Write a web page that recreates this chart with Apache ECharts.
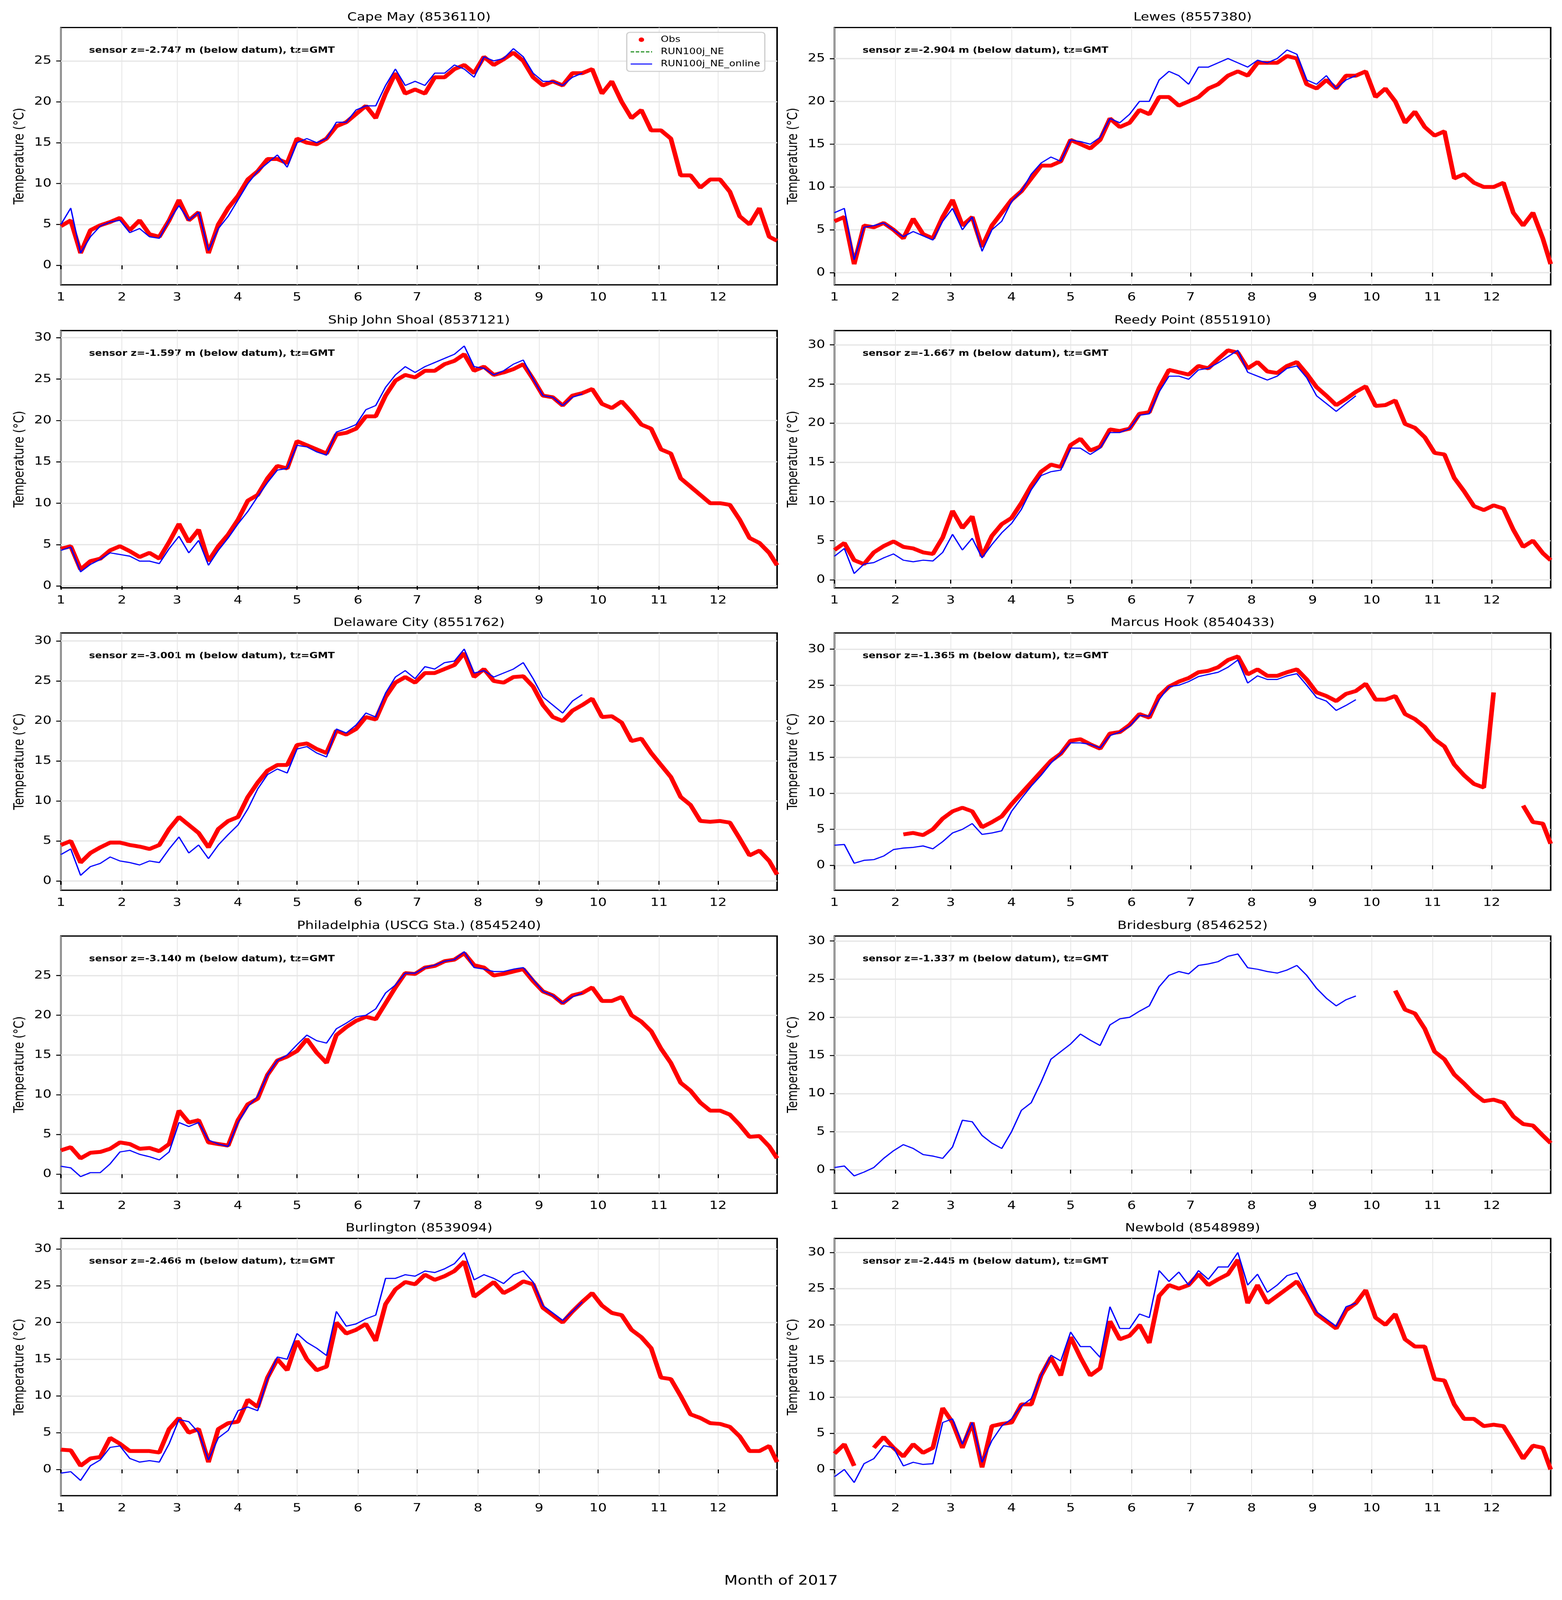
<!DOCTYPE html>
<html><head><meta charset="utf-8">
<script src="https://cdn.jsdelivr.net/npm/echarts@6/dist/echarts.min.js"></script>
<style>html,body{margin:0;padding:0;background:#fff;overflow:hidden}#c{width:4000px;height:5000px;transform-origin:0 0}</style>
</head><body><div id="c"></div>
<script>
// ---- data (day of year 2017, 0 = Jan 1) ----
const days = [0,5,10,15,20,25,30,35,40,45,50,55,60,65,70,75,80,85,90,95,100,105,110,115,120,125,130,135,140,145,150,155,160,165,170,175,180,185,190,195,200,205,210,215,220,225,230,235,240,245,250,255,260,265,270,275,280,285,290,295,300,305,310,315,320,325,330,335,340,345,350,355,360,364];
const monthStarts = [0,31,59,90,120,151,181,212,243,273,304,334];
const monthLabels = ['1','2','3','4','5','6','7','8','9','10','11','12'];
const stationNames = ['Cape May (8536110)','Lewes (8557380)','Ship John Shoal (8537121)','Reedy Point (8551910)','Delaware City (8551762)','Marcus Hook (8540433)','Philadelphia (USCG Sta.) (8545240)','Bridesburg (8546252)','Burlington (8539094)','Newbold (8548989)'];
const sensorDepths = ['-2.747','-2.904','-1.597','-1.667','-3.001','-1.365','-3.140','-1.337','-2.466','-2.445'];
const yTicks25 = [0,5,10,15,20,25];
const yTicks30 = [0,5,10,15,20,25,30];

const capeMayObs = [4.8,5.5,1.5,4.3,4.9,5.3,5.8,4.3,5.5,3.8, 3.5,5.5,8.0,5.5,6.5,1.5,5.0,7.0,8.5,10.5, 11.5,13.0,13.0,12.5,15.5,15.0,14.8,15.5,17.0,17.5, 18.5,19.5,18.0,21.0,23.5,21.0,21.5,21.0,23.0,23.0, 24.0,24.5,23.5,25.5,24.5,25.2,26.0,25.0,23.0,22.0, 22.5,22.0,23.5,23.5,24.0,21.0,22.5,20.0,18.0,19.0, 16.5,16.5,15.5,11.0,11.0,9.5,10.5,10.5,9.0,6.0, 5.0,7.0,3.5,3.0];
const capeMayModel = [5.0,7.0,1.5,3.5,4.8,5.3,5.5,4.0,4.5,3.5, 3.3,5.5,7.3,5.5,6.5,1.8,4.5,6.0,8.0,10.0, 11.5,12.5,13.5,12.0,15.0,15.5,15.0,15.5,17.5,17.5, 19.0,19.5,19.5,22.0,24.0,22.0,22.5,22.0,23.5,23.5, 24.5,24.0,23.0,25.5,25.0,25.3,26.5,25.5,23.5,22.5, 22.5,22.0,23.0,23.5];

const lewesObs = [6.0,6.5,1.0,5.5,5.3,5.8,5.0,4.0,6.3,4.5, 4.0,6.5,8.5,5.5,6.5,3.0,5.5,7.0,8.5,9.5, 11.0,12.5,12.5,13.0,15.5,15.0,14.5,15.5,18.0,17.0, 17.5,19.0,18.5,20.5,20.5,19.5,20.0,20.5,21.5,22.0, 23.0,23.5,23.0,24.5,24.5,24.5,25.3,25.0,22.0,21.5, 22.5,21.5,23.0,23.0,23.5,20.5,21.5,20.0,17.5,18.8, 17.0,16.0,16.5,11.0,11.5,10.5,10.0,10.0,10.5,7.0, 5.5,7.0,4.0,1.0];
const lewesModel = [7.0,7.5,1.5,5.3,5.5,5.8,5.0,4.2,4.8,4.3, 3.8,6.0,7.5,5.0,6.5,2.5,5.0,6.0,8.3,9.5, 11.5,12.8,13.5,13.0,15.5,15.3,15.0,15.8,18.0,17.5, 18.5,20.0,20.0,22.5,23.5,23.0,22.0,24.0,24.0,24.5, 25.0,24.5,24.0,24.8,24.5,25.0,26.0,25.5,22.5,22.0, 23.0,21.5,22.5,23.0];

const shipJohnObs = [4.5,4.8,2.0,3.0,3.3,4.3,4.8,4.2,3.5,4.0, 3.3,5.3,7.5,5.3,6.8,3.0,4.8,6.2,8.0,10.3, 11.0,13.0,14.5,14.2,17.5,17.0,16.5,16.0,18.3,18.5, 19.0,20.5,20.5,23.0,24.8,25.5,25.2,26.0,26.0,26.8, 27.2,28.0,26.0,26.5,25.5,25.8,26.2,26.8,25.0,23.0, 22.8,21.8,23.0,23.3,23.8,22.0,21.5,22.3,21.0,19.5, 19.0,16.5,16.0,13.0,12.0,11.0,10.0,10.0,9.8,8.0, 5.8,5.2,4.0,2.5];
const shipJohnModel = [4.3,4.7,1.7,2.6,3.2,4.0,3.8,3.6,3.0,3.0, 2.7,4.5,6.0,4.0,5.5,2.5,4.3,5.8,7.5,9.0, 10.8,12.5,14.0,14.2,17.0,16.8,16.2,15.8,18.6,19.0, 19.5,21.3,21.8,24.0,25.5,26.5,25.8,26.5,27.0,27.5, 28.0,29.0,26.5,26.3,25.5,26.0,26.8,27.3,25.0,23.0, 22.8,21.8,22.8,23.2];

const reedyObs = [3.8,4.7,2.5,2.0,3.5,4.3,4.9,4.2,4.0,3.5, 3.3,5.4,8.8,6.6,8.1,3.0,5.6,7.1,7.9,9.8, 12.0,13.8,14.7,14.4,17.2,18.0,16.5,17.0,19.2,19.0, 19.3,21.2,21.4,24.5,26.8,26.5,26.2,27.3,27.0,28.2, 29.3,29.0,27.0,27.8,26.6,26.4,27.3,27.8,26.3,24.6, 23.5,22.3,23.1,24.0,24.7,22.2,22.3,22.9,19.9,19.4, 18.2,16.2,16.0,13.0,11.3,9.4,8.9,9.5,9.1,6.4, 4.2,5.0,3.4,2.5];
const reedyModel = [3.0,4.0,0.8,2.0,2.2,2.8,3.3,2.5,2.3,2.5, 2.4,3.5,5.8,3.8,5.3,2.8,4.5,6.0,7.2,9.0, 11.5,13.3,13.8,14.0,16.8,16.8,16.0,16.8,18.8,18.8, 19.3,21.0,21.2,24.0,26.0,26.0,25.6,26.8,27.0,27.7, 28.5,29.3,26.5,26.0,25.5,26.0,27.0,27.3,25.8,23.5, 22.5,21.5,22.5,23.5];

const delCityObs = [4.5,5.0,2.3,3.5,4.2,4.8,4.8,4.5,4.3,4.0, 4.5,6.5,8.0,7.0,6.0,4.2,6.5,7.5,8.0,10.5, 12.3,13.8,14.5,14.5,17.0,17.2,16.5,16.0,18.8,18.3, 19.0,20.5,20.2,23.0,24.8,25.5,24.8,26.0,26.0,26.5, 27.0,28.5,25.5,26.5,25.0,24.8,25.5,25.6,24.3,22.0, 20.5,20.0,21.3,22.0,22.8,20.5,20.6,19.8,17.5,17.8, 16.0,14.5,13.0,10.5,9.5,7.5,7.4,7.5,7.3,5.3, 3.2,3.8,2.5,0.8];
const delCityModel = [3.3,4.0,0.7,1.8,2.2,3.0,2.5,2.3,2.0,2.5, 2.3,4.0,5.5,3.5,4.5,2.8,4.5,5.8,7.0,9.0, 11.5,13.3,14.0,13.5,16.5,16.8,16.0,15.5,19.0,18.5, 19.5,21.0,20.5,23.5,25.5,26.3,25.3,26.8,26.5,27.3, 27.5,29.0,26.0,26.3,25.5,26.0,26.5,27.3,25.3,23.0, 22.0,21.0,22.5,23.3];

const marcusObs = [null,null,null,null,null,null,null,4.3,4.5,4.2, 5.0,6.5,7.5,8.0,7.5,5.3,6.0,6.8,8.5,10.0, 11.5,13.0,14.5,15.5,17.3,17.5,16.8,16.2,18.3,18.5, 19.5,21.0,20.5,23.5,24.8,25.5,26.0,26.8,27.0,27.5, 28.5,29.0,26.5,27.2,26.3,26.3,26.8,27.2,25.8,24.0, 23.5,22.8,23.8,24.2,25.2,23.0,23.0,23.5,21.0,20.3, 19.2,17.5,16.5,14.0,12.5,11.3,10.8,24.0,null,null, 8.3,6.0,5.8,3.0];
const marcusModel = [2.8,2.9,0.3,0.7,0.8,1.3,2.2,2.4,2.5,2.7, 2.3,3.3,4.5,5.0,5.8,4.3,4.5,4.8,7.5,9.3, 11.0,12.5,14.2,15.5,17.0,17.0,16.8,16.3,18.0,18.5, 19.3,20.8,20.7,23.0,24.8,25.0,25.5,26.2,26.5,26.8, 27.5,28.5,25.3,26.3,25.8,25.8,26.3,26.6,25.0,23.3, 22.8,21.5,22.2,23.0];

const phillyObs = [3.0,3.4,2.0,2.7,2.8,3.2,4.0,3.8,3.2,3.3, 2.9,3.8,8.0,6.5,6.8,4.0,3.8,3.6,6.8,8.8, 9.5,12.5,14.3,14.8,15.5,17.0,15.3,14.0,17.5,18.5, 19.3,19.8,19.5,21.5,23.5,25.3,25.2,26.0,26.2,26.8, 27.0,27.8,26.3,26.0,25.0,25.2,25.5,25.8,24.3,23.0, 22.5,21.5,22.5,22.8,23.5,21.8,21.8,22.3,20.0,19.2, 18.0,15.8,14.0,11.5,10.5,9.0,8.0,8.0,7.5,6.2, 4.7,4.8,3.5,2.0];
const phillyModel = [1.0,0.8,-0.3,0.2,0.2,1.3,2.8,3.0,2.5,2.2, 1.8,2.8,6.5,6.0,6.5,4.3,3.8,3.5,6.5,8.5, 9.8,12.5,14.3,15.0,16.3,17.5,16.8,16.5,18.3,19.0, 19.8,20.0,20.8,22.8,23.8,25.3,25.3,26.0,26.3,26.8, 27.0,28.0,26.0,25.8,25.5,25.5,25.8,26.0,24.5,23.0, 22.5,21.5,22.3,22.8];

// Bridesburg observations begin at day 285 (index 57)
const bridesObsStart = 57;
const bridesObs = [23.5,21.0,20.5,18.5,15.5,14.5,12.5,11.3,10.0,9.0,9.2,8.8,7.0,6.0,5.8,4.5,3.5];
const bridesModel = [0.3,0.5,-0.8,-0.3,0.3,1.5,2.5,3.3,2.8,2.0, 1.8,1.5,3.0,6.5,6.3,4.5,3.5,2.8,5.0,7.8, 8.8,11.5,14.5,15.5,16.5,17.8,17.0,16.3,19.0,19.8, 20.0,20.8,21.5,24.0,25.5,26.0,25.7,26.8,27.0,27.3, 28.0,28.3,26.5,26.3,26.0,25.8,26.2,26.8,25.5,23.8, 22.5,21.5,22.3,22.8];

const burlObs = [2.7,2.6,0.5,1.5,1.7,4.3,3.5,2.5,2.5,2.5, 2.3,5.5,7.0,5.0,5.5,1.0,5.5,6.3,6.5,9.5, 8.5,12.5,15.0,13.5,17.5,15.0,13.5,14.0,20.0,18.5, 19.0,19.8,17.5,22.5,24.5,25.5,25.2,26.5,25.8,26.3, 27.0,28.3,23.5,24.5,25.5,24.0,24.7,25.6,25.2,22.0, 21.0,20.0,21.5,22.8,24.0,22.3,21.3,21.0,19.0,18.0, 16.5,12.5,12.3,10.0,7.5,7.0,6.3,6.2,5.8,4.5, 2.5,2.5,3.2,1.0];
const burlModel = [-0.5,-0.3,-1.5,0.5,1.3,3.0,3.2,1.5,1.0,1.2, 1.0,3.5,6.8,6.5,5.0,1.3,4.3,5.3,8.0,8.5, 8.0,12.3,15.3,15.0,18.5,17.3,16.5,15.5,21.5,19.5, 19.8,20.5,21.0,26.0,26.0,26.5,26.3,27.0,26.8,27.3, 28.0,29.5,25.8,26.5,26.0,25.3,26.5,27.0,25.5,22.3, 21.3,20.3,21.5,22.8];

const newboldObs = [2.2,3.5,0.5,null,3.0,4.5,3.0,1.8,3.5,2.3, 3.0,8.5,6.5,3.0,6.5,0.3,6.0,6.3,6.5,9.0, 9.0,13.0,15.5,13.0,18.3,15.5,13.0,14.0,20.5,18.0, 18.5,20.0,17.5,24.0,25.5,25.0,25.5,27.0,25.5,26.3, 27.0,29.0,23.0,25.5,23.0,24.0,25.0,26.0,24.0,21.5, 20.5,19.5,22.0,23.0,24.8,21.0,20.0,21.5,18.0,17.0, 17.0,12.5,12.3,9.0,7.0,7.0,6.0,6.2,6.0,3.8, 1.5,3.3,3.0,0.0];
const newboldModel = [-1.0,0.0,-1.8,0.8,1.5,3.3,3.0,0.5,1.0,0.7, 0.8,6.5,7.0,3.5,6.5,1.0,4.0,6.0,7.0,8.8, 9.8,13.0,15.8,15.0,19.0,17.0,17.0,15.5,22.5,19.5, 19.5,21.5,21.0,27.5,26.0,27.3,25.5,27.5,26.3,28.0, 28.0,30.0,25.5,27.0,24.5,25.5,26.8,27.2,24.5,21.8, 20.8,19.8,22.5,23.0];

// ---- layout ----
const FONT = 'DejaVu Sans';
const colLeft = [156, 2137];
const gridW = 1834, gridH = 804;
const rowTop = [86, 1033, 1978, 2925, 3870];
const yRange = [[-2.38,29.08],[-1.42,28.62],[-0.23,30.86],[-1.03,31.82],[-1.16,31.01],[-3.45,32.25],[-2.40,29.97],[-3.08,30.66],[-3.57,31.44],[-3.62,31.95]];
const yTickSets = [yTicks25,yTicks25,yTicks30,yTicks30,yTicks30,yTicks30,yTicks25,yTicks30,yTicks30,yTicks30];

const obsList = [capeMayObs, lewesObs, shipJohnObs, reedyObs, delCityObs, marcusObs, phillyObs,
  Array(bridesObsStart).fill(null).concat(bridesObs), burlObs, newboldObs];
const modelList = [capeMayModel, lewesModel, shipJohnModel, reedyModel, delCityModel, marcusModel, phillyModel, bridesModel, burlModel, newboldModel];

function pairs(vals){ const out=[]; for(let i=0;i<days.length;i++){ const v = i<vals.length ? vals[i] : null; out.push([days[i], v==null?null:v]); } return out; }

// the window may be shorter than the 5000px figure: fit the whole figure into it
const el = document.getElementById('c');
const vh = window.innerHeight || 5000;
if (vh < 5000) el.style.transform = 'scale(1,' + (vh/5000) + ')';

const grids=[], xAxes=[], yAxes=[], series=[], titles=[], graphics=[];
for(let k=0;k<10;k++){
  const r=Math.floor(k/2), c=k%2;
  const L=colLeft[c], T=rowTop[r];
  grids.push({left:L, top:T, width:gridW, height:gridH, show:true, borderColor:'#000', borderWidth:4, backgroundColor:'#fff'});
  xAxes.push({type:'value', gridIndex:k, min:0, max:364,
    axisLine:{show:false},
    axisTick:{show:true, length:12, inside:false, lineStyle:{color:'#000', width:3}, customValues:monthStarts},
    axisLabel:{show:true, customValues:monthStarts, margin:22, color:'#000', fontFamily:FONT, fontSize:35,
      formatter:(v)=>{const i=monthStarts.indexOf(Math.round(v)); return i>=0?monthLabels[i]:'';}},
    splitLine:{show:true, lineStyle:{color:'#e6e6e6', width:2}}
  });
  yAxes.push({type:'value', gridIndex:k, min:yRange[k][0], max:yRange[k][1],
    name:'Temperature (°C)', nameLocation:'middle', nameGap:88, nameRotate:90,
    nameTextStyle:{color:'#000', fontFamily:FONT, fontSize:35},
    axisLine:{show:false},
    axisTick:{show:true, length:12, lineStyle:{color:'#000', width:3}, customValues:yTickSets[k]},
    axisLabel:{show:true, customValues:yTickSets[k], margin:24, color:'#000', fontFamily:FONT, fontSize:35, formatter:(v)=>String(Math.round(v))},
    splitLine:{show:true, lineStyle:{color:'#e6e6e6', width:4}}
  });
  series.push({name:'Obs', type:'line', xAxisIndex:k, yAxisIndex:k, data:pairs(obsList[k]), showSymbol:false, symbol:'none', connectNulls:false,
    lineStyle:{color:'#ff0000', width:12}, itemStyle:{color:'#ff0000'}, silent:true, animation:false});
  series.push({name:'RUN100j_NE', type:'line', xAxisIndex:k, yAxisIndex:k, data:[], symbol:'none',
    lineStyle:{color:'#008000', width:3, type:[8,5]}, itemStyle:{color:'#008000'}, silent:true, animation:false});
  series.push({name:'RUN100j_NE_online', type:'line', xAxisIndex:k, yAxisIndex:k, data:pairs(modelList[k]), symbol:'none', connectNulls:false,
    lineStyle:{color:'#0000ff', width:3.5}, itemStyle:{color:'#0000ff'}, silent:true, animation:false});
  titles.push({text:stationNames[k], left:L+gridW/2, top:T-49, textAlign:'center', padding:0,
    textStyle:{color:'#000', fontFamily:FONT, fontSize:35, fontWeight:'normal'}});
  graphics.push({type:'text', left:L+72, top:T+59, style:{text:'sensor z='+sensorDepths[k]+' m (below datum), tz=GMT', fill:'#000', font:'bold 26px "DejaVu Sans"'}});
}
graphics.push({type:'text', left:'center', top:4922, style:{text:'Month of 2017', fill:'#000', font:'40px "DejaVu Sans"'}});

const chart = echarts.init(el, null, {renderer:'canvas', devicePixelRatio:1});
chart.setOption({
  animation:false,
  backgroundColor:'#fff',
  title:titles,
  grid:grids, xAxis:xAxes, yAxis:yAxes, series:series,
  legend:{show:true, orient:'vertical', left:1605, top:101, padding:[10,12,10,10], itemGap:12,
    itemWidth:55, itemHeight:14, backgroundColor:'rgba(255,255,255,0.85)', borderColor:'#cccccc', borderWidth:3, borderRadius:8,
    textStyle:{color:'#000', fontFamily:FONT, fontSize:26, padding:[0,0,0,17]},
    selectedMode:false,
    data:[{name:'Obs', icon:'circle', itemStyle:{color:'#ff0000'}},
          {name:'RUN100j_NE', icon:'path://M0,0h9v3h-9z M13,0h9v3h-9z M26,0h9v3h-9z M39,0h9v3h-9z M52,0h3v3h-3z', itemStyle:{color:'#008000'}},
          {name:'RUN100j_NE_online', icon:'path://M0,0h55v3h-55z', itemStyle:{color:'#0000ff'}}]},
  graphic:graphics
});
</script></body></html>
